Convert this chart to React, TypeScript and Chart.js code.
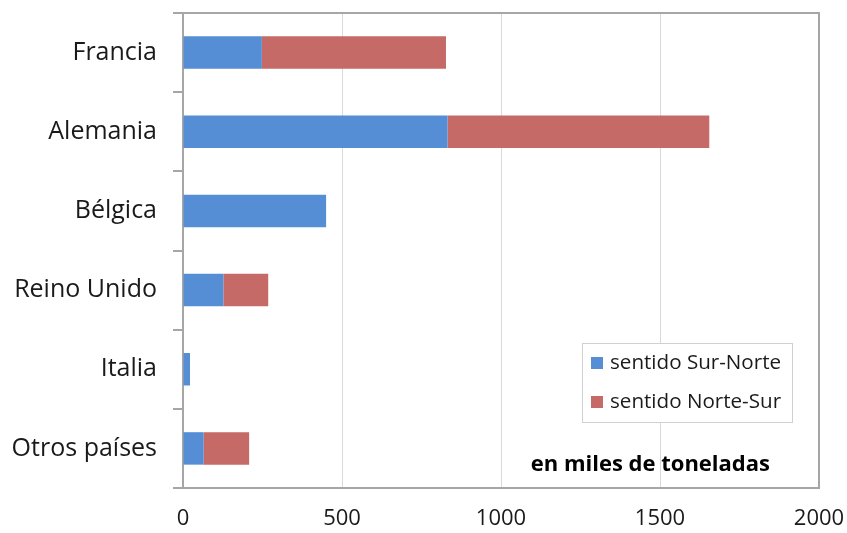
import React, { useEffect, useRef } from "react";
import { Chart, registerables } from "chart.js";

Chart.register(...registerables);

const categories = ["Francia", "Alemania", "Bélgica", "Reino Unido", "Italia", "Otros países"];
const surNorte = [248, 832, 450, 127, 22, 65];
const norteSur = [579, 823, 0, 141, 0, 143];
const seriesNames = ["sentido Sur-Norte", "sentido Norte-Sur"];
const xTicks = [0, 500, 1000, 1500, 2000];
const unitNote = "en miles de toneladas";

const BLUE = "#558ED5";
const RED = "#C66A67";
const FONT = "'Open Sans', sans-serif";

const overlay = {
  id: "overlay",
  afterDraw(chart: any) {
    const ctx = chart.ctx;
    const a = chart.chartArea;
    ctx.save();
    // frame top and right
    ctx.strokeStyle = "#a6a6a6";
    ctx.lineWidth = 2;
    ctx.beginPath();
    ctx.moveTo(a.left, a.top);
    ctx.lineTo(a.right, a.top);
    ctx.lineTo(a.right, a.bottom);
    ctx.stroke();
    // legend
    const lx = a.left + 399;
    const ly = a.top + 330;
    const lw = 210;
    const lh = 79;
    ctx.fillStyle = "#ffffff";
    ctx.fillRect(lx, ly, lw, lh);
    ctx.strokeStyle = "#d0d0d0";
    ctx.lineWidth = 1;
    ctx.strokeRect(lx + 0.5, ly + 0.5, lw, lh);
    const colors = [BLUE, RED];
    ctx.font = "20.6px " + FONT;
    ctx.textBaseline = "middle";
    ctx.textAlign = "left";
    seriesNames.forEach((n, i) => {
      const cy = ly + 20 + i * 39;
      ctx.fillStyle = colors[i];
      ctx.fillRect(lx + 9, cy - 6, 12, 12);
      ctx.fillStyle = "#1a1a1a";
      ctx.fillText(n, lx + 28, cy);
    });
    // unit note
    ctx.font = "bold 22px " + FONT;
    ctx.fillStyle = "#000000";
    ctx.textAlign = "right";
    ctx.fillText(unitNote, a.left + 587, a.top + 452);
    ctx.restore();
  },
};

export default function App() {
  const ref = useRef<HTMLCanvasElement>(null);
  useEffect(() => {
    document.body.style.margin = "0";
    const chart = new Chart(ref.current!, {
      type: "bar",
      data: {
        labels: categories,
        datasets: [
          { label: seriesNames[0], data: surNorte, backgroundColor: BLUE, barPercentage: 0.41, categoryPercentage: 1 },
          { label: seriesNames[1], data: norteSur, backgroundColor: RED, barPercentage: 0.41, categoryPercentage: 1 },
        ],
      },
      options: {
        indexAxis: "y",
        animation: false,
        responsive: false,
        layout: { padding: { top: 13, right: 28, left: 0, bottom: 0 } },
        plugins: { legend: { display: false }, tooltip: { enabled: false } },
        scales: {
          x: {
            stacked: true,
            min: 0,
            max: 2000,
            afterBuildTicks: (s: any) => {
              s.ticks = xTicks.map((v) => ({ value: v }));
            },
            afterFit: (s: any) => {
              s.height = 45;
              s.paddingLeft = 0;
              s.paddingRight = 0;
            },
            grid: { color: "#d9d9d9", lineWidth: 1, drawTicks: false },
            border: { display: true, color: "#a6a6a6", width: 2 },
            ticks: {
              font: { family: FONT, size: 22 },
              color: "#1a1a1a",
              padding: 18,
              maxRotation: 0,
              callback: (v: any) => String(v),
            },
          },
          y: {
            stacked: true,
            afterFit: (s: any) => {
              s.width = 183;
              s.paddingTop = 0;
              s.paddingBottom = 0;
            },
            grid: { drawOnChartArea: false, color: "#a6a6a6", lineWidth: 2, tickLength: 10, offset: true },
            border: { display: true, color: "#a6a6a6", width: 2 },
            ticks: { font: { family: FONT, size: 25 }, color: "#1a1a1a", padding: 16 },
          },
        },
      },
      plugins: [overlay],
    });
    return () => chart.destroy();
  }, []);
  return <canvas ref={ref} width={847} height={533} style={{ display: "block" }} />;
}
